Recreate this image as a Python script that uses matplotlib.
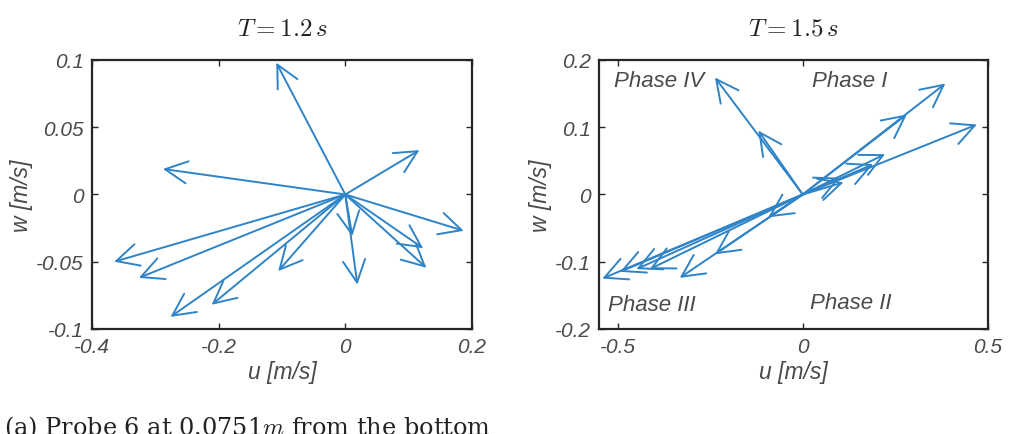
import matplotlib
matplotlib.use("Agg")
import matplotlib.pyplot as plt

plt.rcParams['axes.unicode_minus'] = False
plt.rcParams['mathtext.fontset'] = 'cm'

# Periodo T = 1.2 s (sonda 6)
u_12 = [-0.109, -0.288, 0.117, 0.187, 0.123, 0.128, 0.019, 0.011,
        -0.365, -0.326, -0.276, -0.211, -0.106]
w_12 = [0.098, 0.019, 0.033, -0.027, -0.040, -0.0545, -0.067, -0.031,
        -0.050, -0.062, -0.091, -0.082, -0.057]

# Periodo T = 1.5 s
u_15 = [-0.237, -0.120, 0.385, 0.281, 0.470, 0.222, 0.190, 0.110, 0.100,
        -0.541, -0.493, -0.449, -0.413, -0.332, -0.237, -0.093]
w_15 = [0.174, 0.095, 0.165, 0.119, 0.104, 0.060, 0.045, 0.018, 0.025,
        -0.125, -0.115, -0.111, -0.111, -0.124, -0.089, -0.034]

fases = ["Phase IV", "Phase I", "Phase III", "Phase II"]
fases_u = [-0.51, 0.025, -0.525, 0.02]
fases_w = [0.169, 0.169, -0.163, -0.16]

xt_12 = [-0.4, -0.2, 0, 0.2]
xt_12_lab = ["-0.4", "-0.2", "0", "0.2"]
yt_12 = [-0.1, -0.05, 0, 0.05, 0.1]
yt_12_lab = ["-0.1", "-0.05", "0", "0.05", "0.1"]
xt_15 = [-0.5, 0, 0.5]
xt_15_lab = ["-0.5", "0", "0.5"]
yt_15 = [-0.2, -0.1, 0, 0.1, 0.2]
yt_15_lab = ["-0.2", "-0.1", "0", "0.1", "0.2"]

AZUL = '#2f84c8'
GRIS = '#4a4a4a'
FUENTE = 'Liberation Sans'


def flechas(ax, u, w):
    for ui, wi in zip(u, w):
        ax.annotate("", xy=(ui, wi), xytext=(0, 0),
                    arrowprops=dict(arrowstyle="->,head_length=1.6,head_width=0.8",
                                    color=AZUL, lw=1.4, shrinkA=0, shrinkB=0,
                                    mutation_scale=10))


def formato(ax, xt, xl, yt, yl, xlim, ylim, titulo):
    ax.set_xlim(xlim)
    ax.set_ylim(ylim)
    ax.set_xticks(xt)
    ax.set_xticklabels(xl)
    ax.set_yticks(yt)
    ax.set_yticklabels(yl)
    ax.tick_params(direction='in', length=4, width=1, colors='#262626',
                   labelcolor=GRIS, labelsize=15, top=True, right=True, pad=6)
    for lab in ax.get_xticklabels() + ax.get_yticklabels():
        lab.set_fontstyle('italic')
        lab.set_family(FUENTE)
    for s in ax.spines.values():
        s.set_linewidth(1.6)
        s.set_color('#262626')
    ax.set_xlabel("u [m/s]", fontsize=16.5, style='italic', color=GRIS, family=FUENTE, labelpad=3)
    ax.set_ylabel("w [m/s]", fontsize=16.5, style='italic', color=GRIS, family=FUENTE, labelpad=2)
    ax.set_title(titulo, fontsize=18, pad=18, color='#222222')


fig = plt.figure(figsize=(10.13, 4.35), dpi=100)
ax1 = fig.add_axes([0.0908, 0.2414, 0.3751, 0.6184])
ax2 = fig.add_axes([0.5913, 0.2414, 0.3840, 0.6184])

flechas(ax1, u_12, w_12)
formato(ax1, xt_12, xt_12_lab, yt_12, yt_12_lab, (-0.4, 0.2), (-0.1, 0.1), r'$T = 1.2\,s$')

flechas(ax2, u_15, w_15)
formato(ax2, xt_15, xt_15_lab, yt_15, yt_15_lab, (-0.55, 0.5), (-0.2, 0.2), r'$T = 1.5\,s$')
for txt, x, y in zip(fases, fases_u, fases_w):
    ax2.text(x, y, txt, fontsize=16, style='italic', color=GRIS, family=FUENTE,
             ha='left', va='center')

# pie de figura, recortado abajo como en el original
fig.text(0.004, 1 - 414 / 435, r"(a) Probe 6 at 0.0751$m$ from the bottom", fontsize=17.3,
         family='DejaVu Serif', color='#222222', ha='left', va='top')

fig.savefig("out.png", dpi=100)
